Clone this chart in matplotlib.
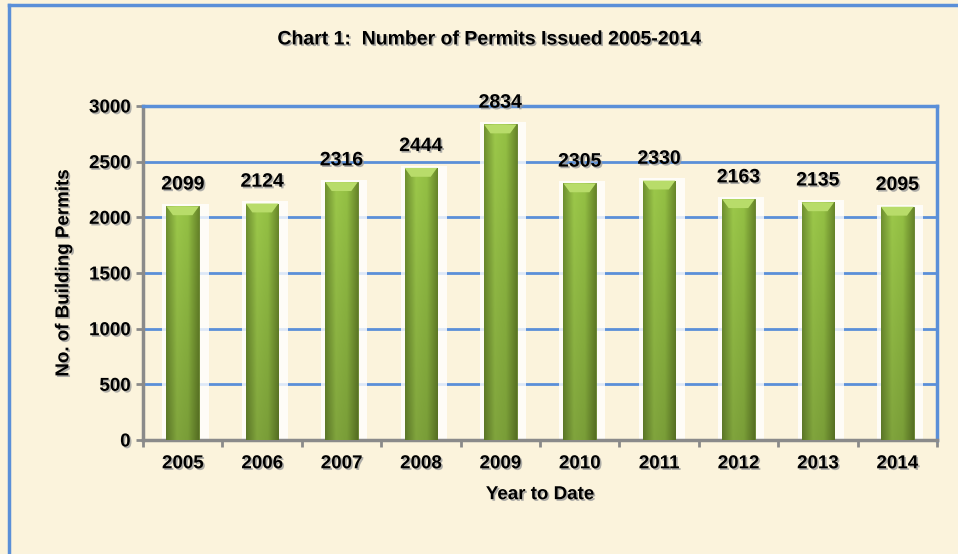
import matplotlib.pyplot as plt
import matplotlib.patheffects as pe
import numpy as np
from matplotlib.colors import LinearSegmentedColormap

years = ['2005', '2006', '2007', '2008', '2009', '2010', '2011', '2012', '2013', '2014']
permits = [2099, 2124, 2316, 2444, 2834, 2305, 2330, 2163, 2135, 2095]
y_ticks = [0, 500, 1000, 1500, 2000, 2500, 3000]

bg = '#fbf3dc'
blue = '#5a8fd8'
grey = '#8a8a8a'
shadow = [pe.withSimplePatchShadow(offset=(1.2, -1.2), shadow_rgbFace='#9a9a9a', alpha=0.8)]

plt.rcParams['font.family'] = ['Liberation Sans', 'DejaVu Sans']

fig = plt.figure(figsize=(9.58, 5.54), dpi=100, facecolor=bg)
ax = fig.add_axes([0.1493, 0.2058, 0.978 - 0.1493, 0.8087 - 0.2058])
ax.set_facecolor(bg)

# outer frame of the chart
fig.add_artist(plt.Line2D([0.0094, 0.0094], [0, 0.991], color=blue, lw=2.5, transform=fig.transFigure))
fig.add_artist(plt.Line2D([0.0094, 1.0], [0.991, 0.991], color=blue, lw=2.5, transform=fig.transFigure))

x = np.arange(len(years))
w = 0.41

# white glow behind bars
for xi, v in zip(x, permits):
    ax.add_patch(plt.Rectangle((xi - w / 2 - 0.05, 0), w + 0.17, v + 20, color='white', alpha=0.8, zorder=2, lw=0))

bars = ax.bar(x, permits, width=w, color='#8db43f', zorder=3, edgecolor='#5d7a25', lw=0.6)

# green gradient on each bar: lighter at top, darker at edges and bottom
cmap = LinearSegmentedColormap.from_list('g', ['#6f9030', '#9cc84a', '#94c044', '#68862a'])
gx = np.linspace(0, 1, 64)
gy = np.linspace(0, 1, 64)
for b in bars:
    bx, by = b.get_x(), b.get_y()
    bw, bh = b.get_width(), b.get_height()
    rgb = cmap(np.tile(gx, (64, 1)))[..., :3]
    shade = (0.82 + 0.18 * gy)[:, None, None]
    im = ax.imshow(rgb * shade, aspect='auto', extent=[bx, bx + bw, by, by + bh], origin='lower', zorder=3.5)
    im.set_clip_path(b)
    # light bevel at the top
    ax.fill([bx, bx + bw, bx + bw * 0.8, bx + bw * 0.2], [by + bh, by + bh, by + bh - 80, by + bh - 80],
            color='#b8dc6a', zorder=3.6, lw=0)

for xi, v in zip(x, permits):
    ax.text(xi, v + 115, str(v), ha='center', va='bottom', fontsize=14, fontweight='bold',
            zorder=5, path_effects=shadow)

ax.set_xlim(-0.5, len(years) - 0.5)
ax.set_ylim(0, 3000)
ax.set_yticks(y_ticks)
ax.set_yticklabels([str(t) for t in y_ticks], fontsize=13.5, fontweight='bold')
for t in ax.get_yticklabels():
    t.set_path_effects(shadow)
ax.set_xticks(x)
ax.set_xticklabels(years, fontsize=13.5, fontweight='bold')
for t in ax.get_xticklabels():
    t.set_path_effects(shadow)
ax.set_xticks(np.arange(len(years) + 1) - 0.5, minor=True)
ax.tick_params(axis='x', which='major', length=0, pad=11)
ax.tick_params(axis='x', which='minor', length=5, width=2, color=grey)
ax.tick_params(axis='y', length=5, width=2, color=grey, pad=4)

ax.yaxis.grid(True, color=blue, lw=2, zorder=1)
ax.set_axisbelow(True)
ax.spines['left'].set_color(grey)
ax.spines['bottom'].set_color(grey)
ax.spines['left'].set_linewidth(2.5)
ax.spines['bottom'].set_linewidth(2.5)
ax.spines['top'].set_color(blue)
ax.spines['right'].set_color(blue)
ax.spines['top'].set_linewidth(2.5)
ax.spines['right'].set_linewidth(2.5)

ax.set_xlabel('Year to Date', fontsize=13.5, fontweight='bold', labelpad=10, path_effects=shadow)
ax.set_ylabel('No. of Building Permits', fontsize=13.5, fontweight='bold', labelpad=12, path_effects=shadow)
fig.text(0.511, 0.928, 'Chart 1:  Number of Permits Issued 2005-2014', ha='center', va='center',
         fontsize=14, fontweight='bold', path_effects=shadow)

fig.savefig('out.png', dpi=100, facecolor=bg)
